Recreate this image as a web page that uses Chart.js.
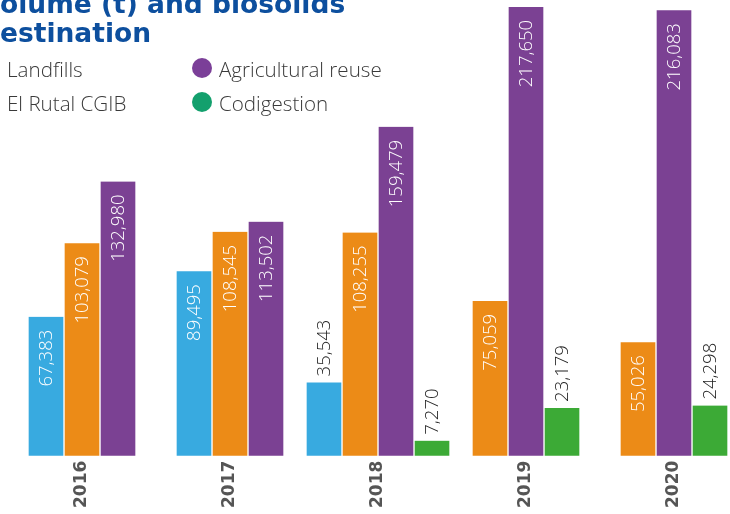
<!DOCTYPE html>
<html>
<head>
<meta charset="utf-8">
<script src="https://cdn.jsdelivr.net/npm/chart.js@4.4.1/dist/chart.umd.min.js"></script>
<style>
  body { margin: 0; background: #fff; }
  #wrap { position: relative; width: 730px; height: 514px; overflow: hidden; }
  #chart { position: absolute; left: 0; top: 0; }
  .title {
    position: absolute; left: 0; top: -11px;
    font-family: "DejaVu Sans", sans-serif; font-weight: bold;
    font-size: 26.5px; line-height: 29px; color: #0d4f9e;
    white-space: nowrap;
  }
  .title div { position: relative; }
  .item {
    position: absolute; white-space: nowrap;
    font-family: "Open Sans", sans-serif; font-weight: 300;
    font-size: 20.6px; line-height: 34px; color: #3a3a3a;
  }
  .dot {
    position: absolute; left: -27px; top: 6px;
    width: 20px; height: 20px; border-radius: 50%;
  }
</style>
</head>
<body>
<div id="wrap">
  <canvas id="chart" width="730" height="514"></canvas>
  <div class="title">
    <div><span class="cut">V</span>olume (t) and biosolids</div>
    <div><span class="cut">d</span>estination</div>
  </div>
  <div class="item" style="left:7px; top:52px;"><span class="dot" style="background:#38aae0"></span>Landfills</div>
  <div class="item" style="left:7px; top:86px;"><span class="dot" style="background:#ec8b17"></span>El Rutal CGIB</div>
  <div class="item" style="left:219px; top:52px;"><span class="dot" style="background:#7b3f98"></span>Agricultural reuse</div>
  <div class="item" style="left:219px; top:86px;"><span class="dot" style="background:#13a06d"></span>Codigestion</div>
</div>
<script>
const years = ["2016", "2017", "2018", "2019", "2020"];
const landfills = [67383, 89495, 35543, null, null];
const elRutal = [103079, 108545, 108255, 75059, 55026];
const agricultural = [132980, 113502, 159479, 217650, 216083];
const codigestion = [null, null, 7270, 23179, 24298];

// the picture is cropped: push the first letter of each title line off the page
document.querySelectorAll(".title div").forEach((line) => {
  const w = line.querySelector(".cut").getBoundingClientRect().width;
  line.style.left = -w + "px";
});

// rotated value labels, inside the bar when there is room, else above it
const valueLabels = {
  id: "valueLabels",
  afterDatasetsDraw(chart) {
    const ctx = chart.ctx;
    ctx.save();
    ctx.font = '300 18.5px "Open Sans"';
    ctx.textBaseline = "middle";
    chart.data.datasets.forEach((ds, i) => {
      const meta = chart.getDatasetMeta(i);
      meta.data.forEach((bar, j) => {
        const v = ds.data[j];
        if (v == null) return;
        const text = v.toLocaleString("en-US");
        const w = ctx.measureText(text).width;
        const h = bar.base - bar.y;
        ctx.save();
        ctx.translate(bar.x, bar.y);
        ctx.rotate(-Math.PI / 2);
        if (h > w + 24) {
          ctx.textAlign = "right";
          ctx.fillStyle = "#ffffff";
          ctx.fillText(text, -13, 1);
        } else {
          ctx.textAlign = "left";
          ctx.fillStyle = "#222222";
          ctx.fillText(text, 6, 1);
        }
        ctx.restore();
      });
    });
    ctx.restore();
  },
};

const barStyle = {
  barThickness: 36,
  borderColor: "#ffffff",
  borderWidth: { top: 0, right: 1, bottom: 0, left: 1 },
  borderSkipped: false,
  clip: false,
};

const ctx = document.getElementById("chart").getContext("2d");

new Chart(ctx, {
  type: "bar",
  data: {
    labels: years,
    datasets: [
      { label: "Landfills", data: landfills, backgroundColor: "#38aae0", ...barStyle },
      { label: "El Rutal CGIB", data: elRutal, backgroundColor: "#ec8b17", ...barStyle },
      { label: "Agricultural reuse", data: agricultural, backgroundColor: "#7b4193", ...barStyle },
      { label: "Codigestion", data: codigestion, backgroundColor: "#3caa36", ...barStyle },
    ],
  },
  options: {
    responsive: false,
    animation: false,
    datasets: { bar: { skipNull: true } },
    layout: { padding: { left: 82, right: 56, top: 0, bottom: 1 } },
    plugins: {
      legend: { display: false },
      title: { display: false },
      tooltip: { enabled: false },
    },
    scales: {
      x: {
        offset: false,
        grid: { display: false, drawTicks: false },
        border: { display: false },
        ticks: {
          minRotation: 90,
          maxRotation: 90,
          padding: 5,
          color: "#555555",
          font: { family: "DejaVu Sans", weight: "bold", size: 17 },
        },
      },
      y: {
        display: false,
        min: 0,
        max: 221000,
      },
    },
  },
  plugins: [valueLabels],
});
</script>
</body>
</html>
